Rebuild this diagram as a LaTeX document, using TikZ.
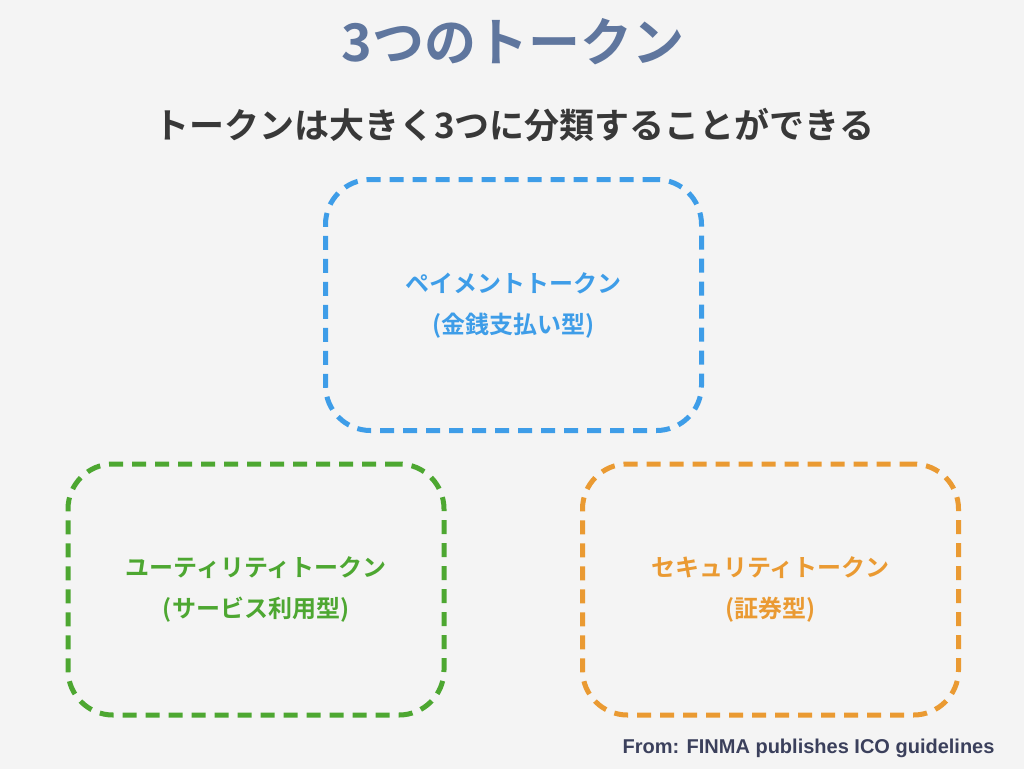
\documentclass[tikz,border=0pt]{standalone}
\usepackage{fontspec}
\setmainfont{Noto Sans CJK JP}[BoldFont={Noto Sans CJK JP Bold}]
\newfontfamily\srcfont{Liberation Sans}
\usetikzlibrary{positioning}
\definecolor{bgray}{HTML}{F4F4F4}
\definecolor{titleblue}{HTML}{5F769E}
\definecolor{subgray}{HTML}{383838}
\definecolor{payblue}{HTML}{3E9DE8}
\definecolor{utilgreen}{HTML}{4DA731}
\definecolor{secorange}{HTML}{EA9A32}
\definecolor{srcnavy}{HTML}{3B405C}

\begin{document}
\begin{tikzpicture}[
  x=1pt, y=-1pt,
  every node/.style={font=\bfseries},
  tokenbox/.style={draw, dashed, line width=5pt, dash pattern=on 14pt off 9pt,
    rounded corners=45pt, minimum width=376pt, minimum height=251pt,
    align=center, font=\bfseries\fontsize{24}{41}\selectfont},
]
  \useasboundingbox[fill=bgray] (0,0) rectangle (1024,769);

  \node[text=titleblue, font=\bfseries\fontsize{52}{58}\selectfont] (title) at (513,42) {3つのトークン};
  \node[text=subgray, font=\bfseries\fontsize{35}{40}\selectfont] (sub) at (514,125) {トークンは大きく3つに分類することができる};

  \node[tokenbox, draw=payblue, text=payblue] (pay) at (513.5,305) {ペイメントトークン\\(金銭支払い型)};
  \node[tokenbox, draw=utilgreen, text=utilgreen] (util) at (256,589.5) {ユーティリティトークン\\(サービス利用型)};
  \node[tokenbox, draw=secorange, text=secorange] (sec) at (770.5,589.5) {セキュリティトークン\\(証券型)};

  \node[text=srcnavy, anchor=east, font=\srcfont\bfseries\fontsize{20}{22}\selectfont] (src) at (998,748) {From: FINMA publishes ICO guidelines};
\end{tikzpicture}
\end{document}
